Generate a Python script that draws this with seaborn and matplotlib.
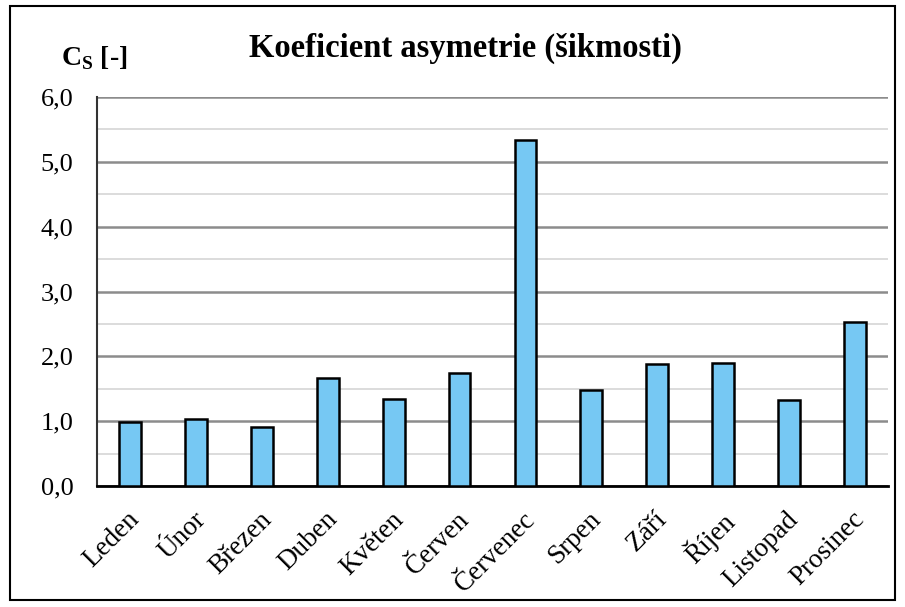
import pandas as pd
import numpy as np
import matplotlib
matplotlib.use("Agg")
import matplotlib.pyplot as plt
import matplotlib.ticker as mtick
import matplotlib.transforms as mtrans
import seaborn as sns

months = ["Leden", "Únor", "Březen", "Duben", "Květen", "Červen",
          "Červenec", "Srpen", "Září", "Říjen", "Listopad", "Prosinec"]
cs_values = [0.99, 1.04, 0.91, 1.66, 1.34, 1.74, 5.33, 1.48, 1.88, 1.89, 1.32, 2.53]

BAR_COLOR = "#76C8F3"
SERIF = ["Liberation Serif", "DejaVu Serif"]

sns.set_theme(style="white")
plt.rcParams["font.family"] = SERIF
plt.rcParams["text.color"] = "black"
plt.rcParams["xtick.color"] = "black"
plt.rcParams["ytick.color"] = "black"

df = pd.DataFrame({"month": months, "cs": cs_values})

fig = plt.figure(figsize=(9.05, 6.07), dpi=100)
ax = fig.add_axes([97 / 905, 1 - 486 / 607, (888 - 97) / 905, (486 - 97) / 607])

sns.barplot(data=df, x="month", y="cs", color=BAR_COLOR, saturation=1,
            width=0.33, edgecolor="black", linewidth=1.8, ax=ax, zorder=3)

ax.set_ylim(0, 6)
ax.yaxis.set_major_locator(mtick.MultipleLocator(1))
ax.yaxis.set_minor_locator(mtick.MultipleLocator(0.5))
ax.yaxis.set_major_formatter(mtick.FuncFormatter(lambda v, _: f"{v:.1f}".replace(".", ",")))
ax.grid(axis="y", which="major", color="#8c8c8c", linewidth=1.8, zorder=0)
ax.grid(axis="y", which="minor", color="#d9d9d9", linewidth=1.3, zorder=0)
ax.set_axisbelow(True)

for s in ["top", "right"]:
    ax.spines[s].set_visible(False)
ax.spines["left"].set_color("#333333")
ax.spines["left"].set_linewidth(1.5)
ax.spines["bottom"].set_color("black")
ax.spines["bottom"].set_linewidth(2)

ax.tick_params(axis="both", length=0, labelsize=19, labelcolor="black")
ax.tick_params(axis="y", pad=17)
ax.tick_params(axis="x", pad=15)
ax.set_xlabel("")
ax.set_ylabel("")
for lbl in ax.get_yticklabels():
    lbl.set_fontfamily(SERIF)
shift = mtrans.ScaledTranslation(-3 / 100, 0, fig.dpi_scale_trans)
for lbl in ax.get_xticklabels():
    lbl.set_fontfamily(SERIF)
    lbl.set_rotation(45)
    lbl.set_ha("right")
    lbl.set_rotation_mode("anchor")
    lbl.set_fontsize(19.5)
    lbl.set_transform(lbl.get_transform() + shift)

fig.text(465 / 905, 1 - 48 / 607, "Koeficient asymetrie (šikmosti)",
         ha="center", va="center", fontsize=23.5, fontweight="bold")
fig.text(61 / 905, 1 - 58 / 607, r"C$_\mathregular{S}$ [-]",
         ha="left", va="center", fontsize=20, fontweight="bold")

border = plt.Rectangle((10 / 905, 1 - 600 / 607), 885 / 905, 594 / 607,
                       transform=fig.transFigure, fill=False,
                       edgecolor="black", linewidth=1.5)
fig.patches.append(border)

fig.savefig("out.png", dpi=100, facecolor="white")
